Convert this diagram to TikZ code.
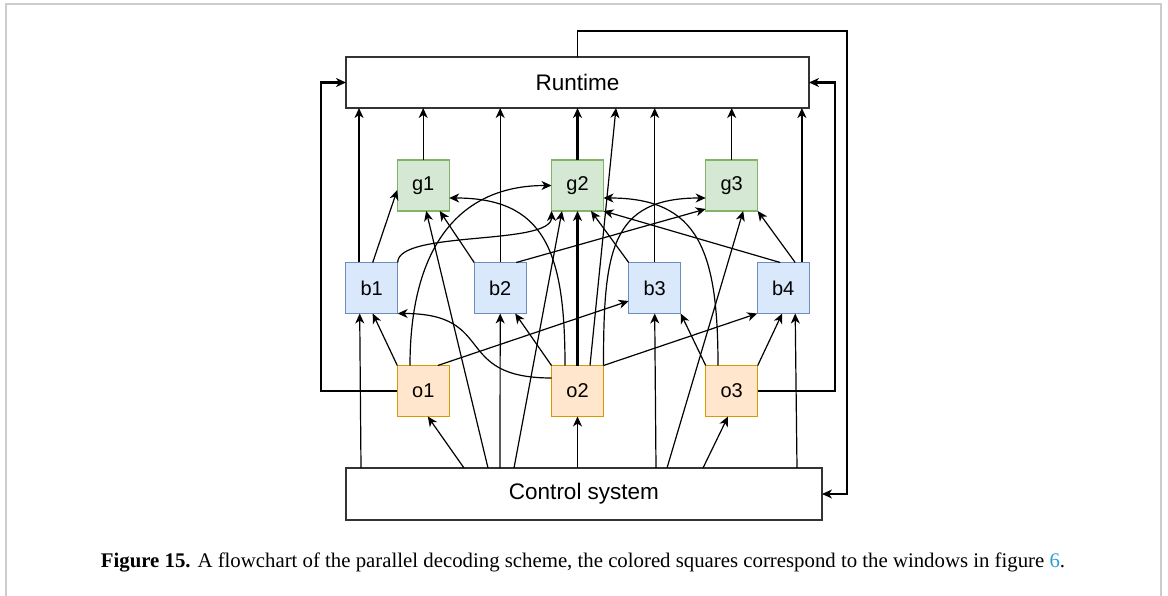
\documentclass[tikz,border=0pt]{standalone}
\usepackage{fontspec}
\setmainfont{Liberation Serif}
\newfontfamily\diafont{Liberation Sans}
\usetikzlibrary{arrows.meta}
\definecolor{gfill}{HTML}{D5E8D4}
\definecolor{gline}{HTML}{82B366}
\definecolor{bfill}{HTML}{DAE8FC}
\definecolor{bline}{HTML}{6C8EBF}
\definecolor{ofill}{HTML}{FFE6CC}
\definecolor{oline}{HTML}{D79B00}
\definecolor{framecol}{HTML}{CCCCCC}
\definecolor{linkblue}{HTML}{2A9FD6}
\begin{document}
\begin{tikzpicture}[x=1pt,y=-1pt,
  bigbox/.style={draw=black!80, line width=1.2pt, fill=white, inner sep=0pt, outer sep=0pt, font=\diafont\fontsize{22.5}{27}\selectfont},
  sq/.style={line width=1.4pt, minimum width=52pt, minimum height=51pt, inner sep=0pt, outer sep=0pt, font=\diafont\fontsize{20}{24}\selectfont},
  gbox/.style={sq, draw=gline, fill=gfill},
  bbox/.style={sq, draw=bline, fill=bfill},
  obox/.style={sq, draw=oline, fill=ofill},
  tip/.style={-{Stealth[length=10pt,width=9pt,inset=3pt]}},
  thin/.style={tip, line width=1.2pt},
  thk/.style={tip, line width=2.3pt},
]
\useasboundingbox (0,0) rectangle (1168,596);
% figure frame
\draw[framecol, line width=2pt] (6,600) -- (6,4) -- (1161,4) -- (1161,600);

% nodes
\node[bigbox, minimum width=463pt, minimum height=51pt] (rt) at (577.5,82.5) {Runtime};
\node[bigbox, minimum width=476pt, minimum height=52pt] (cs) at (584,494) {Control system};
\node[gbox] (g1) at (423.2,185.5) {g1};
\node[gbox] (g2) at (577.5,185.5) {g2};
\node[gbox] (g3) at (731.7,185.5) {g3};
\node[bbox] (b1) at (371.7,288) {b1};
\node[bbox] (b2) at (500.2,288) {b2};
\node[bbox] (b3) at (654.7,288) {b3};
\node[bbox] (b4) at (783.2,288) {b4};
\node[obox] (o1) at (423.3,391) {o1};
\node[obox] (o2) at (577.5,391) {o2};
\node[obox] (o3) at (731.7,391) {o3};

% thick connectors
\draw[thk] (o1.west) -| ([xshift=-25pt]rt.west) -- (rt.west);
\draw[thk] (o3.east) -| ([xshift=26pt]rt.east) -- (rt.east);
\draw[thk] ([xshift=13.3pt]b1.north west) coordinate (s1) -- (s1 |- rt.south);
\draw[thk] ([xshift=-7.3pt]b4.north east) coordinate (s4) -- (s4 |- rt.south);
\draw[thk] (g2.north) -- (rt.south -| g2.north);
\draw[thk] (o2.north) -- (g2.south);

% feedback loop
\draw[thin] (rt.north) -- ++(0,-26) -| ([xshift=25pt]cs.east) -- (cs.east);

% to Runtime
\draw[thin] (g1.north) -- (g1.north |- rt.south);
\draw[thin] (g3.north) -- (g3.north |- rt.south);
\draw[thin] (b2.north) -- (b2.north |- rt.south);
\draw[thin] (b3.north) -- (b3.north |- rt.south);
\draw[thin] ([xshift=12.5pt]o2.north) -- ([xshift=270pt]rt.south west);

% from Control system
\draw[thin] ([xshift=15pt]cs.north west) -- ([xshift=14pt]b1.south west);
\draw[thin] ([xshift=118pt]cs.north west) -- ([xshift=4.5pt]o1.south);
\draw[thin] ([xshift=142pt]cs.north west) -- ([xshift=3pt]g1.south);
\draw[thin] ([xshift=154pt]cs.north west) -- (b2.south);
\draw[thin] ([xshift=168pt]cs.north west) -- ([xshift=-15.5pt]g2.south);
\draw[thin] ([xshift=231.5pt]cs.north west) -- (o2.south);
\draw[thin] ([xshift=310pt]cs.north west) -- (b3.south);
\draw[thin] ([xshift=321pt]cs.north west) -- ([xshift=11.5pt]g3.south);
\draw[thin] ([xshift=357pt]cs.north west) -- ([xshift=-3.7pt]o3.south);
\draw[thin] ([xshift=451pt]cs.north west) -- ([xshift=12pt]b4.south);

% from o1
\draw[thin] (o1.north west) -- ([xshift=1pt]b1.south);
\draw[thin] ([xshift=14.5pt]o1.north) -- ([yshift=-13pt]b3.west);
\draw[thin] ([xshift=-13.3pt]o1.north) .. controls +(0,-115) and +(-95,0) .. (g2.west);

% from o2
\draw[thin] (o2.north west) -- ([xshift=15pt]b2.south);
\draw[thin] ([xshift=-12.5pt]o2.north) .. controls +(0,-115) and +(95,0) .. ([yshift=-12.5pt]g1.east);
\draw[thin] (o2.north east) .. controls +(0,-115) and +(-95,0) .. ([yshift=-12.5pt]g3.west);
\draw[thin] (o2.north east) -- (b4.south west);
\draw[thin] ([yshift=13pt]o2.west) .. controls +(-100,0) and +(100,0) .. (b1.south east);

% from o3
\draw[thin] (o3.north west) -- (b3.south east);
\draw[thin] ([xshift=-13.7pt]o3.north) .. controls +(0,-115) and +(95,0) .. ([yshift=-12.5pt]g2.east);
\draw[thin] (o3.north east) -- ([xshift=-1pt]b4.south);

% from b-boxes
\draw[thin] ([xshift=1pt]b1.north) -- ([yshift=-4.5pt]g1.west);
\draw[thin] (b1.north east) .. controls (397.7,230) and (551.7,246) .. (g2.south west);
\draw[thin] (b2.north west) -- ([xshift=16.5pt]g1.south);
\draw[thin] ([xshift=16pt]b2.north) -- ([yshift=2pt]g3.south west);
\draw[thin] (b3.north west) -- ([xshift=13.5pt]g2.south);
\draw[thin] ([xshift=-3pt]b4.north) -- (g2.south east);
\draw[thin] ([xshift=12pt]b4.north) -- (g3.south east);

% caption
\node[anchor=base, inner sep=0pt, font=\fontsize{20.8}{24}\selectfont] (cap) at (583,567)
  {\textbf{Figure 15.} A flowchart of the parallel decoding scheme, the colored squares correspond to the windows in figure \textcolor{linkblue}{6}.};
\end{tikzpicture}
\end{document}
